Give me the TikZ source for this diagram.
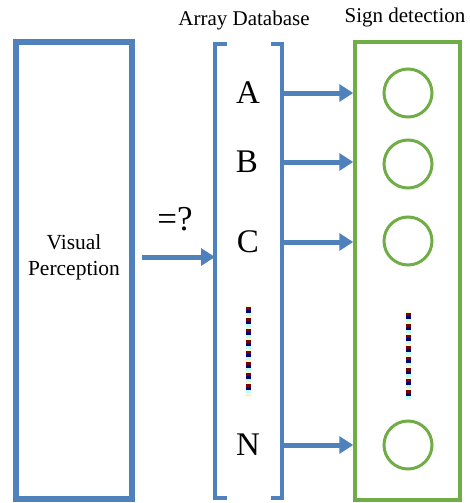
\documentclass[tikz,border=0pt]{standalone}
\usepackage{fontspec}
\setmainfont{Liberation Serif}
\usetikzlibrary{arrows.meta, positioning, calc}
\definecolor{BoxBlue}{RGB}{79,129,189}
\definecolor{SignGreen}{RGB}{112,173,71}
\definecolor{DotYellow}{RGB}{255,255,200}
\definecolor{DotMaroon}{RGB}{120,0,10}
\definecolor{DotNavy}{RGB}{0,0,120}
\definecolor{DotCyan}{RGB}{190,255,255}

\begin{document}
\begin{tikzpicture}[x=1pt, y=-1pt,
	blk/.style={draw=BoxBlue, line width=6pt, inner sep=0pt},
	sgn/.style={circle, draw=SignGreen, line width=3pt, minimum size=48pt, inner sep=0pt},
	itm/.style={font=\fontsize{33}{36}\selectfont},
	ttl/.style={font=\fontsize{21}{24}\selectfont, anchor=base},
	arr/.style={draw=BoxBlue, line width=5pt, -{Triangle[length=14pt, width=17pt]}}]
	\useasboundingbox (0,0) rectangle (469,503);
	% visual perception
	\node[blk, minimum width=116pt, minimum height=457pt] (vp) at (74,270.5) {};
	\node[align=center, font=\fontsize{21.5}{26}\selectfont] (vpt) at (74,257) {Visual\\Perception};
	\node[font=\fontsize{35}{38}\selectfont] (eq) at (175,219) {=?};
	% array database
	\node[minimum width=67pt, minimum height=454pt, inner sep=0pt, outer sep=0pt] (db) at (248.5,271) {};
	\draw[BoxBlue, line width=4pt] ([xshift=12pt]db.north west) -- (db.north west) -- (db.south west) -- +(12,0);
	\draw[BoxBlue, line width=4pt] ([xshift=-11pt]db.north east) -- (db.north east) -- (db.south east) -- +(-11,0);
	\node[ttl] (dbt) at (244,26) {Array Database};
	\node[itm] (iA) at (248,93) {A};
	\node[itm] (iB) at (247,162) {B};
	\node[itm] (iC) at (248,242) {C};
	\node[itm] (iN) at (248,445) {N};
	% sign detection
	\node[draw=SignGreen, line width=3.5pt, minimum width=105pt, minimum height=458pt, inner sep=0pt] (sd) at (407.5,271) {};
	\node[ttl] (sdt) at (405,23) {Sign detection};
	\node[sgn] (sA) at (408,93) {};
	\node[sgn] (sB) at (408,164) {};
	\node[sgn] (sC) at (408,241) {};
	\node[sgn] (sN) at (408,445) {};
	% dots
	\coordinate (l1) at (248.5,305); \coordinate (l2) at (248.5,395);
	\coordinate (r1) at (408.5,311); \coordinate (r2) at (408.5,400);
	\foreach \c/\l/\p in {DotYellow/2/0, DotMaroon/3/9, DotNavy/3/6, DotCyan/3/3}{
		\draw[\c, line width=5pt, dash pattern=on \l pt off 11pt-\l pt, dash phase=\p pt] (l1) -- (l2);
		\draw[\c, line width=5pt, dash pattern=on \l pt off 11pt-\l pt, dash phase=\p pt] (r1) -- (r2);
	}
	% arrows
	\coordinate (vpo) at ([yshift=13.5pt]vp.east);
	\draw[arr, shorten <=7pt] (vpo) -- (vpo -| db.west);
	\foreach \i in {A,B,C,N}{\draw[arr] (db.east |- i\i) -- (sd.west |- i\i);}
\end{tikzpicture}
\end{document}
